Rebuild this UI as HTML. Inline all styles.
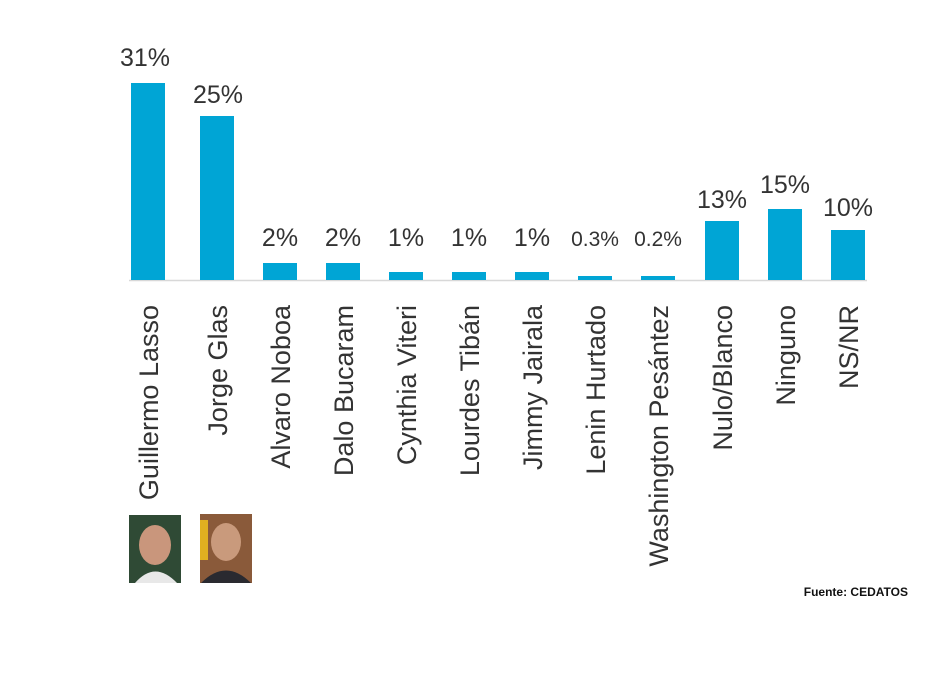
<!DOCTYPE html>
<html><head><meta charset="utf-8"><style>
html,body{margin:0;padding:0;background:#fff;}
</style></head><body>
<svg width="950" height="686" xmlns="http://www.w3.org/2000/svg" style="display:block">
<rect width="950" height="686" fill="#fff"/>
<line x1="129" y1="280.5" x2="867" y2="280.5" stroke="#d8d8d8" stroke-width="1.5"/>
<g fill="#00a5d5">
<rect x="131" y="83" width="34" height="197"/>
<rect x="200" y="116" width="34" height="164"/>
<rect x="263" y="263" width="34" height="17"/>
<rect x="326" y="263" width="34" height="17"/>
<rect x="389" y="272" width="34" height="8"/>
<rect x="452" y="272" width="34" height="8"/>
<rect x="515" y="272" width="34" height="8"/>
<rect x="578" y="276" width="34" height="4"/>
<rect x="641" y="276" width="34" height="4"/>
<rect x="705" y="221" width="34" height="59"/>
<rect x="768" y="209" width="34" height="71"/>
<rect x="831" y="230" width="34" height="50"/>
</g>
<g font-family="Liberation Sans, sans-serif" font-size="25" fill="#333" text-anchor="middle">
<text x="145" y="66">31%</text>
<text x="218" y="103">25%</text>
<text x="280" y="246">2%</text>
<text x="343" y="246">2%</text>
<text x="406" y="246">1%</text>
<text x="469" y="246">1%</text>
<text x="532" y="246">1%</text>
<text x="595" y="246" font-size="21">0.3%</text>
<text x="658" y="246" font-size="21">0.2%</text>
<text x="722" y="208">13%</text>
<text x="785" y="193">15%</text>
<text x="848" y="216">10%</text>
</g>
<g font-family="Liberation Sans, sans-serif" font-size="27" fill="#333" text-anchor="end">
<text transform="translate(158,305) rotate(-90)">Guillermo Lasso</text>
<text transform="translate(227,305) rotate(-90)">Jorge Glas</text>
<text transform="translate(290,305) rotate(-90)">Alvaro Noboa</text>
<text transform="translate(353,305) rotate(-90)">Dalo Bucaram</text>
<text transform="translate(416,305) rotate(-90)">Cynthia Viteri</text>
<text transform="translate(479,305) rotate(-90)">Lourdes Tibán</text>
<text transform="translate(542,305) rotate(-90)">Jimmy Jairala</text>
<text transform="translate(605,305) rotate(-90)">Lenin Hurtado</text>
<text transform="translate(668,305) rotate(-90)">Washington Pesántez</text>
<text transform="translate(732,305) rotate(-90)">Nulo/Blanco</text>
<text transform="translate(795,305) rotate(-90)">Ninguno</text>
<text transform="translate(858,305) rotate(-90)">NS/NR</text>
</g>
<rect x="129" y="515" width="52" height="68" fill="#2f4a35"/>
<ellipse cx="155" cy="545" rx="16" ry="20" fill="#c9967c"/>
<path d="M135 583 Q155 560 177 583 Z" fill="#e8e8e8"/>
<rect x="200" y="514" width="52" height="69" fill="#8a5a3a"/>
<rect x="200" y="520" width="8" height="40" fill="#e0b020"/>
<ellipse cx="226" cy="542" rx="15" ry="19" fill="#c99a7c"/>
<path d="M201 583 Q226 558 251 583 Z" fill="#2a2a30"/>
<text x="908" y="596" font-family="Liberation Sans, sans-serif" font-size="12" font-weight="bold" fill="#111" text-anchor="end">Fuente: CEDATOS</text>
</svg>
</body></html>
